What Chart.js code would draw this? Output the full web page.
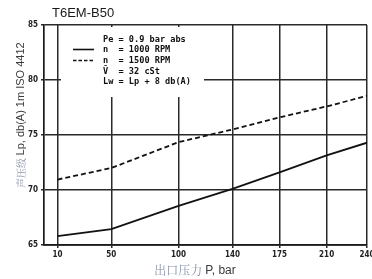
<!DOCTYPE html>
<html><head><meta charset="utf-8">
<script src="https://cdn.jsdelivr.net/npm/chart.js@4"></script>
<style>html,body{margin:0;padding:0;background:#fff}#w{width:372px;height:279px}</style>
</head><body><div id="w"><canvas id="c"></canvas></div>
<script>
const pressure = [10, 50, 100, 140, 175, 210, 240];
const lp1000 = [65.8, 66.45, 68.55, 70.1, 71.6, 73.15, 74.3];
const lp1500 = [70.95, 72.0, 74.35, 75.5, 76.6, 77.6, 78.55];
const xTicks = [10, 50, 100, 140, 175, 210, 240];
const yTicks = [65, 70, 75, 80, 85];
const legendLines = ['Pe = 0.9 bar abs', 'n  = 1000 RPM', 'n  = 1500 RPM', 'V\u0304  = 32 cSt', 'Lw = Lp + 8 db(A)'];
const titleText = 'T6EM-B50';
const yTitleCn = '声压级 ', yTitleEn = 'Lp, db(A) 1m ISO 4412';
const xTitleCn = '出口压力 ', xTitleEn = 'P, bar';

const tickFont = {family: '"Liberation Sans Narrow", "DejaVu Sans Condensed", Arial, sans-serif', size: 8, weight: 'bold'};

const overlay = {
  id: 'overlay',
  beforeDatasetsDraw(chart) {
    const ctx = chart.ctx, a = chart.chartArea;
    ctx.save();
    const bx = a.left + 17, by = a.top + 2, bw = 143, bh = 70;
    ctx.fillStyle = '#fff';
    ctx.fillRect(bx, by, bw, bh);
    ctx.fillStyle = '#111';
    ctx.font = 'bold 8.6px "DejaVu Sans Mono", "Liberation Mono", monospace';
    ctx.textBaseline = 'middle';
    const tx = a.left + 59;
    const ys = [40, 49.5, 60.5, 71.5, 82];
    legendLines.forEach((t, i) => ctx.fillText(t, tx, ys[i]));
    ctx.strokeStyle = '#111';
    ctx.lineWidth = 1.6;
    ctx.beginPath(); ctx.moveTo(a.left + 29, 49.5); ctx.lineTo(a.left + 50, 49.5); ctx.stroke();
    ctx.setLineDash([3.5, 2]);
    ctx.beginPath(); ctx.moveTo(a.left + 29, 60.5); ctx.lineTo(a.left + 50, 60.5); ctx.stroke();
    ctx.restore();
  },
  afterDraw(chart) {
    const ctx = chart.ctx;
    ctx.save();
    ctx.fillStyle = '#1a1a1a';
    ctx.font = '13px "Liberation Sans", Arial, sans-serif';
    ctx.textBaseline = 'middle';
    ctx.textAlign = 'left';
    ctx.fillText(titleText, 52, 13);
    const cnFont = '12px "Noto Serif CJK SC", "Noto Sans CJK SC", serif';
    const enFont = '12px "Liberation Sans", Arial, sans-serif';
    ctx.font = cnFont; const w1 = ctx.measureText(xTitleCn).width;
    ctx.font = enFont; const w2 = ctx.measureText(xTitleEn).width;
    let sx = 195 - (w1 + w2) / 2;
    ctx.font = cnFont; ctx.fillStyle = '#8a93a6'; ctx.fillText(xTitleCn, sx, 270);
    ctx.font = enFont; ctx.fillStyle = '#3a3a3a'; ctx.fillText(xTitleEn, sx + w1, 271);
    // y title
    const cnY = '10px "Noto Serif CJK SC", "Noto Sans CJK SC", serif';
    const enY = '11px "Liberation Sans", Arial, sans-serif';
    ctx.translate(21, 188);
    ctx.rotate(-Math.PI / 2);
    ctx.font = cnY; ctx.fillStyle = '#8a93a6'; ctx.fillText(yTitleCn, 0, 0);
    const w3 = ctx.measureText(yTitleCn).width;
    ctx.font = enY; ctx.fillStyle = '#3a3a3a'; ctx.fillText(yTitleEn, w3, 0);
    ctx.restore();
  }
};

new Chart(document.getElementById('c'), {
  type: 'line',
  data: {
    datasets: [
      {label: 'n = 1000 RPM', data: pressure.map((p, i) => ({x: p, y: lp1000[i]})), borderColor: '#111', borderWidth: 1.8, pointRadius: 0, fill: false, tension: 0},
      {label: 'n = 1500 RPM', data: pressure.map((p, i) => ({x: p, y: lp1500[i]})), borderColor: '#111', borderWidth: 1.8, borderDash: [5, 3], pointRadius: 0, fill: false, tension: 0}
    ]
  },
  options: {
    responsive: true, maintainAspectRatio: false, animation: false,
    layout: {padding: {left: 0, right: 5, top: 25, bottom: 0}},
    plugins: {legend: {display: false}, title: {display: false}, tooltip: {enabled: false}},
    scales: {
      x: {
        type: 'linear', min: 0, max: 240,
        afterBuildTicks: s => { s.ticks = xTicks.map(v => ({value: v})); },
        afterFit: s => { s.height = 34; s.paddingLeft = 0; s.paddingRight = 0; },
        ticks: {font: tickFont, color: '#222', padding: 2, maxRotation: 0, autoSkip: false, callback: v => String(v)},
        grid: {color: '#2a2a2a', lineWidth: 1.5, tickLength: 3, tickColor: '#2a2a2a'},
        border: {color: '#1a1a1a', width: 1.7}
      },
      y: {
        min: 65, max: 85,
        afterBuildTicks: s => { s.ticks = yTicks.map(v => ({value: v})); },
        afterFit: s => { s.width = 44; s.paddingTop = 0; s.paddingBottom = 0; },
        ticks: {font: tickFont, color: '#222', padding: 3},
        grid: {color: '#2a2a2a', lineWidth: 1.5, tickLength: 3, tickColor: '#2a2a2a'},
        border: {color: '#1a1a1a', width: 1.7}
      }
    }
  },
  plugins: [overlay]
});
</script>
</body></html>
